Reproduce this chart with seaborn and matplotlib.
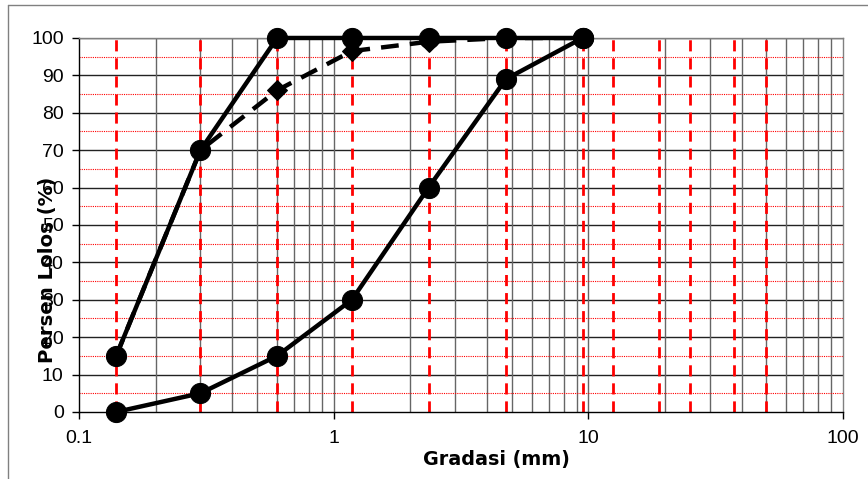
import numpy as np
import pandas as pd
import seaborn as sns
import matplotlib.pyplot as plt
from matplotlib.lines import Line2D
from matplotlib.ticker import LogLocator, FixedLocator, NullFormatter

# ukuran saringan (mm) dan persen lolos
ukuran = [0.14, 0.3, 0.6, 1.18, 2.36, 4.75, 9.5]
batas_atas = [15, 70, 100, 100, 100, 100, 100]
pasir = [15, 70, 86, 96.5, 99, 100, 100]
batas_bawah = [0, 5, 15, 30, 60, 89, 100]

# garis merah vertikal (ukuran saringan standar)
saringan = [0.14, 0.3, 0.6, 1.18, 2.36, 4.75, 9.5, 12.5, 19, 25, 37.5, 50]
x_ticks = [0.1, 1, 10, 100]
y_ticks = list(range(0, 101, 10))

sns.set_style('white')
plt.rcParams['font.family'] = ['Liberation Sans', 'DejaVu Sans']
plt.rcParams['text.color'] = 'black'
plt.rcParams['axes.labelcolor'] = 'black'
plt.rcParams['xtick.color'] = 'black'
plt.rcParams['ytick.color'] = 'black'

fig = plt.figure(figsize=(8.68, 4.79), dpi=100)
ax = fig.add_axes([0.091, 0.14, 0.880, 0.7807])
ax.set_xscale('log')
ax.set_xlim(0.1, 100)
ax.set_ylim(0, 100)

# grid hitam/abu
for y in y_ticks[1:]:
    ax.axhline(y, color='#222222', lw=1, zorder=1)
minor_x = [m * d for d in [0.1, 1, 10] for m in range(2, 10)]
for x in minor_x + [1, 10]:
    ax.axvline(x, color='#666666', lw=1, zorder=1)
# grid merah
for y in range(5, 100, 10):
    ax.axhline(y, color='red', lw=0.8, ls=(0, (1, 1)), zorder=1.5)
for x in saringan:
    ax.axvline(x, color='red', lw=2, ls=(0, (4, 2.5)), zorder=1.6)

df_pasir = pd.DataFrame({'ukuran': ukuran, 'lolos': pasir})
df_atas = pd.DataFrame({'ukuran': ukuran, 'lolos': batas_atas})
df_bawah = pd.DataFrame({'ukuran': ukuran, 'lolos': batas_bawah})

sns.lineplot(data=df_pasir, x='ukuran', y='lolos', ax=ax, color='black', lw=3.2,
             linestyle=(0, (4, 2.5)), marker='D', markersize=10, markeredgecolor='black',
             zorder=3)
sns.lineplot(data=df_bawah, x='ukuran', y='lolos', ax=ax, color='black', lw=3.2,
             marker='o', markersize=14.5, markeredgecolor='black', zorder=4, clip_on=False)
sns.lineplot(data=df_atas, x='ukuran', y='lolos', ax=ax, color='black', lw=3.2,
             marker='o', markersize=14.5, markeredgecolor='black', zorder=4, clip_on=False)

ax.xaxis.set_major_locator(FixedLocator(x_ticks))
ax.set_xticklabels(['0.1', '1', '10', '100'])
ax.xaxis.set_minor_locator(LogLocator(base=10, subs=np.arange(2, 10)))
ax.xaxis.set_minor_formatter(NullFormatter())
ax.set_yticks(y_ticks)
ax.tick_params(axis='both', which='major', labelsize=14, direction='out',
               length=5, width=1, color='black', bottom=True, left=True)
ax.tick_params(axis='x', which='minor', length=0)
ax.tick_params(axis='x', pad=8)
ax.tick_params(axis='y', pad=6)

for s in ['top', 'right']:
    ax.spines[s].set_color('#808080')
for s in ['left', 'bottom']:
    ax.spines[s].set_color('black')
for s in ax.spines.values():
    s.set_linewidth(1)
    s.set_zorder(2)

ax.set_xlabel('Gradasi (mm)', fontsize=13.8, fontweight='bold',
              family=['DejaVu Sans'], va='center')
ax.xaxis.set_label_coords(0.547, -0.128)
ax.set_ylabel('Persen Lolos (%)', fontsize=14.2, fontweight='bold',
              family=['DejaVu Sans'], va='center')
ax.yaxis.set_label_coords(-0.0406, 0.38)

# bingkai grafik
fig.add_artist(Line2D([8 / 868, 8 / 868], [0, 1 - 5 / 479], color='#808080', lw=1))
fig.add_artist(Line2D([8 / 868, 1], [1 - 5 / 479, 1 - 5 / 479], color='#808080', lw=1))

fig.savefig('out.png', dpi=100)
